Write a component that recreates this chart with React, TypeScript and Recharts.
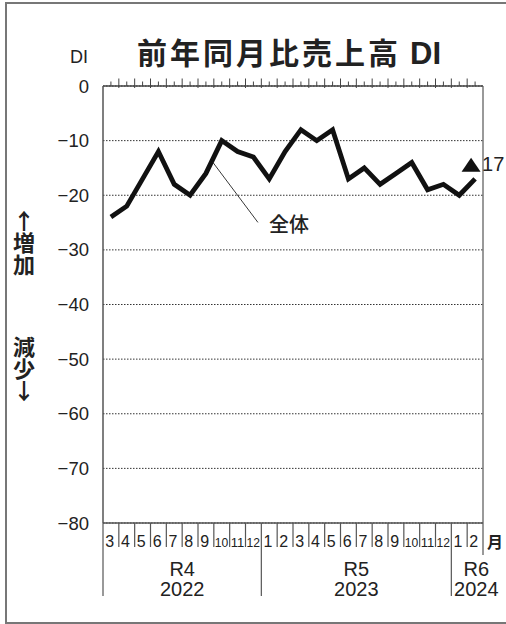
import React from 'react';
import { LineChart, Line, XAxis, YAxis, CartesianGrid } from 'recharts';

const months = ['3', '4', '5', '6', '7', '8', '9', '10', '11', '12', '1', '2', '3', '4', '5', '6', '7', '8', '9', '10', '11', '12', '1', '2'];
const monthYears = [2022, 2022, 2022, 2022, 2022, 2022, 2022, 2022, 2022, 2022, 2023, 2023, 2023, 2023, 2023, 2023, 2023, 2023, 2023, 2023, 2023, 2023, 2024, 2024];
const diValues = [-24, -22, -17, -12, -18, -20, -16, -10, -12, -13, -17, -12, -8, -10, -8, -17, -15, -18, -16, -14, -19, -18, -20, -17];
const eraYears = [2022, 2023, 2024];
const eraLabels = ['R4', 'R5', 'R6'];
const yTicks = [0, -10, -20, -30, -40, -50, -60, -70, -80];
const seriesName = '全体';
const titleJa = '前年同月比売上高';
const titleDI = 'DI';
const sideUp = '↑増加';
const sideDown = '減少↓';

const data = months.map((m, i) => ({ key: `${monthYears[i]}-${m}`, month: m, year: monthYears[i], di: diValues[i] }));

const W = 506;
const H = 624;
const PLOT_TOP = 86;
const PLOT_BOTTOM = 523;
const PLOT_LEFT = 103;
const PLOT_RIGHT = 483;
const TOP_AXIS_H = 20;
const BOTTOM_AXIS_H = 80;
const Y_AXIS_W = 40;
const BW = (PLOT_RIGHT - PLOT_LEFT) / months.length;
const INK = '#222';
const LATIN = "'Liberation Sans', Arial, 'Noto Sans CJK JP', sans-serif";
const CJK = "'Noto Sans CJK JP', sans-serif";

const TopTick = (props: any) => {
  const { x, payload } = props;
  const i = payload?.index ?? props.index ?? 0;
  const bx = x - BW / 2;
  return (
    <g>
      <line x1={x} x2={x} y1={PLOT_TOP - 4.5} y2={PLOT_TOP} stroke="#444" strokeWidth={1} />
      {i > 0 && <line x1={bx} x2={bx} y1={PLOT_TOP - 7.5} y2={PLOT_TOP + 2} stroke="#444" strokeWidth={1} />}
    </g>
  );
};

const MonthTick = (props: any) => {
  const { x, payload } = props;
  const i = payload?.index ?? props.index ?? 0;
  const bx = x - BW / 2;
  const yr = monthYears[i];
  const isStart = i === 0 || monthYears[i - 1] !== yr;
  const isLast = i === months.length - 1;
  const m = months[i];
  const two = m.length > 1;
  const out: React.ReactNode[] = [];
  out.push(
    <line key="d" x1={bx} x2={bx} y1={PLOT_BOTTOM} y2={PLOT_BOTTOM + (isStart ? 73 : 24)} stroke="#555" strokeWidth={1.2} />
  );
  out.push(
    <text key="m" x={bx + (two ? 1.0 : 2.2)} y={PLOT_BOTTOM + 24} fontSize={two ? 13.5 : 16} fill={INK} fontFamily={LATIN}
      {...(two ? { textLength: 13.5, lengthAdjust: 'spacingAndGlyphs' } : {})}>
      {m}
    </text>
  );
  if (isLast) {
    const rx = x + BW / 2;
    out.push(<line key="r" x1={rx} x2={rx} y1={PLOT_TOP} y2={PLOT_BOTTOM + 32} stroke="#555" strokeWidth={1.2} />);
    out.push(
      <text key="u" x={rx + 4} y={PLOT_BOTTOM + 25} fontSize={16} fill={INK} fontFamily={CJK} fontWeight={700}>月</text>
    );
  }
  if (isStart) {
    const n = monthYears.filter((v) => v === yr).length;
    const gw = n * BW;
    const cx = bx + Math.max(gw, 50) / 2;
    const ei = eraYears.indexOf(yr);
    out.push(
      <text key="e" x={cx} y={PLOT_BOTTOM + 53} fontSize={20} fill={INK} textAnchor="middle" fontFamily={LATIN}>{eraLabels[ei]}</text>
    );
    out.push(
      <text key="y" x={cx} y={PLOT_BOTTOM + 73} fontSize={20} fill={INK} textAnchor="middle" fontFamily={LATIN}>{String(yr)}</text>
    );
  }
  return <g>{out}</g>;
};

const LineAnnot = (props: any) => {
  const { x, y, index, value } = props;
  if (index === 6) {
    return (
      <g>
        <line x1={x + 7} y1={y - 11} x2={x + 52} y2={y + 49} stroke="#222" strokeWidth={0.9} />
        <text x={x + 63} y={y + 59} fontSize={20} fill={INK} fontFamily={CJK} fontWeight={500}>{seriesName}</text>
      </g>
    );
  }
  if (index === diValues.length - 1) {
    const tx = x - 4;
    const ty = y - 14;
    return (
      <g>
        <path d={`M${tx - 9.5},${ty + 7} L${tx},${ty - 7} L${tx + 9.5},${ty + 7} Z`} fill="#111" />
        <text x={x + 7} y={y - 8} fontSize={20} fill={INK} fontFamily={LATIN}>{Math.abs(value)}</text>
      </g>
    );
  }
  return null;
};

const fmtY = (v: number) => (v === 0 ? '0' : '\u2212' + Math.abs(v));

const vertStyle: React.CSSProperties = { writingMode: 'vertical-rl' as any, textOrientation: 'upright' as any };

export default function App() {
  return (
    <div style={{ position: 'absolute', left: 0, top: 0, width: W, height: H, background: '#fff', overflow: 'hidden' }}>
      <div style={{ position: 'absolute', left: 5, top: 2, width: 540, height: 618, borderLeft: '2px solid #777', borderTop: '2px solid #777', borderBottom: '2px solid #777' }} />
      <div style={{ position: 'absolute', left: 0, top: 0 }}>
        <LineChart
          width={W}
          height={H}
          data={data}
          margin={{ top: PLOT_TOP - TOP_AXIS_H, right: W - PLOT_RIGHT, bottom: H - PLOT_BOTTOM - BOTTOM_AXIS_H, left: PLOT_LEFT - Y_AXIS_W }}
        >
          <CartesianGrid vertical={false} stroke="#333" strokeWidth={1} strokeDasharray="1.5 1.5" />
          <XAxis xAxisId="top" orientation="top" dataKey="key" scale="band" height={TOP_AXIS_H}
            axisLine={{ stroke: '#444', strokeWidth: 1.5 }} tickLine={false} tick={<TopTick />} interval={0} />
          <XAxis dataKey="key" scale="band" height={BOTTOM_AXIS_H}
            axisLine={{ stroke: '#555', strokeWidth: 1.5 }} tickLine={false} tick={<MonthTick />} interval={0} />
          <YAxis domain={[-80, 0]} ticks={yTicks} width={Y_AXIS_W} tickFormatter={fmtY} interval={0}
            axisLine={{ stroke: '#555', strokeWidth: 1.5 }} tickLine={false} tickMargin={8}
            tick={{ fontSize: 18.5, fill: INK, fontFamily: LATIN }} allowDataOverflow />
          <Line xAxisId={0} dataKey="di" stroke="#111" strokeWidth={4.8} dot={false} isAnimationActive={false}
            strokeLinejoin="miter" label={<LineAnnot />} />
        </LineChart>
      </div>
      <svg width={W} height={H} style={{ position: 'absolute', left: 0, top: 0, pointerEvents: 'none' }}>
        <text x={70} y={63} fontSize={18} fill={INK} fontFamily={LATIN}>DI</text>
        <text x={137} y={64} fontSize={30} fill={INK} fontWeight={700} fontFamily={CJK}>
          <tspan letterSpacing={3}>{titleJa}</tspan>
          <tspan fontFamily={LATIN} fontSize={31} dx={9}>{titleDI}</tspan>
        </text>
        <text x={24} y={210} fontFamily={CJK} fontSize={22} fill={INK} fontWeight={700} style={vertStyle}>{sideUp}</text>
        <text x={24} y={336} fontFamily={CJK} fontSize={22} fill={INK} fontWeight={700} style={vertStyle}>{sideDown}</text>
      </svg>
    </div>
  );
}
